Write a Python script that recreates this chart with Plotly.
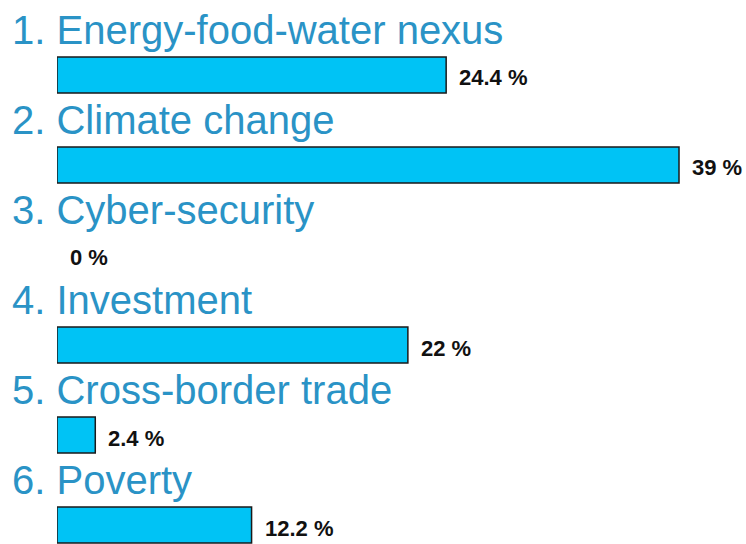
import plotly.graph_objects as go

categories = ["Energy-food-water nexus", "Climate change", "Cyber-security",
              "Investment", "Cross-border trade", "Poverty"]
values = [24.4, 39, 0, 22, 2.4, 12.2]
value_labels = ["24.4 %", "39 %", "0 %", "22 %", "2.4 %", "12.2 %"]

idx = list(range(len(categories)))
line_widths = [1.5 if v > 0 else 0 for v in values]

fig = go.Figure()
fig.add_trace(go.Bar(
    x=values, y=idx, orientation="h", width=0.4,
    marker=dict(color="#00c3f5", line=dict(color="#1a1a1a", width=line_widths)),
    hoverinfo="skip", showlegend=False,
))

ann = []
for i, (c, v, t) in enumerate(zip(categories, values, value_labels)):
    ann.append(dict(
        x=0, y=i, xref="x", yref="y", text=f"{i+1}. {c}",
        xanchor="left", yanchor="middle", xshift=-47, yshift=45,
        showarrow=False,
        font=dict(family="Liberation Sans, Arial", size=40, color="#2a93c6"),
    ))
    ann.append(dict(
        x=v, y=i, xref="x", yref="y", text=f"<b>{t}</b>",
        xanchor="left", yanchor="middle", xshift=11, yshift=-3,
        showarrow=False,
        font=dict(family="Liberation Sans, Arial", size=22, color="#111111"),
    ))

fig.update_layout(
    width=746, height=544,
    margin=dict(l=57, r=0, t=0, b=0),
    paper_bgcolor="white", plot_bgcolor="white",
    xaxis=dict(range=[0, 43.2], visible=False, fixedrange=True),
    yaxis=dict(range=[5.211, -0.833], visible=False, fixedrange=True),
    annotations=ann,
)
fig.write_html("out.html")
